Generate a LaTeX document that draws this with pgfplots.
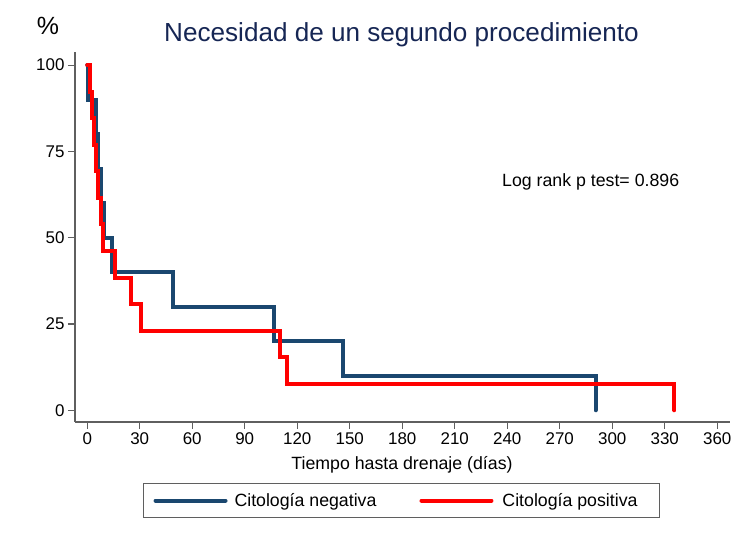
\documentclass[border=0pt]{standalone}
\usepackage{fontspec}
\setmainfont{Liberation Sans}
\usepackage{pgfplots}
\pgfplotsset{compat=1.18}
\definecolor{stnavy}{RGB}{26,71,111}
\definecolor{stred}{RGB}{255,0,0}
\definecolor{ttl}{RGB}{22,38,84}
\definecolor{axgray}{RGB}{95,95,95}

\begin{document}
\begin{tikzpicture}[x=1bp,y=1bp]
\useasboundingbox (-75,-123) rectangle (675,422);
\begin{axis}[
  at={(0,0)}, anchor=south west,
  scale only axis, width=655bp, height=370bp,
  xmin=-7, xmax=367.3, ymin=-3.4, ymax=103.8,
  axis x line=bottom, axis y line=left,
  every outer x axis line/.append style={-},
  every outer y axis line/.append style={-},
  axis line style={axgray, line width=1.2bp},
  xtick={0,30,...,360}, ytick={0,25,50,75,100},
  tick align=outside, major tick length=7bp,
  tick style={axgray, line width=1.2bp},
  /pgf/number format/assume math mode=true,
  ticklabel style={font=\fontsize{17}{20}\selectfont, text=black},
  legend columns=2,
  legend style={at={(0.4985,-0.2122)}, anchor=center, draw=axgray,
    line width=1.2bp, inner xsep=10bp, inner ysep=7.5bp,
    font=\fontsize{17.8}{21}\selectfont,
    /tikz/every odd column/.append style={column sep=5bp},
    /tikz/every even column/.append style={column sep=41bp}},
  legend image code/.code={\draw[#1] (0bp,0bp) -- (70bp,0bp);},
  legend cell align=left,
]
% Citologia negativa (n=10)
\addplot[const plot, color=stnavy, line width=4bp, line cap=round] coordinates {
  (0,100) (0.5,90) (5,80) (6.3,70) (7.7,60) (9.5,50) (14,40)
  (49,30) (107,20) (146,10) (290.5,0)
};
% Citologia positiva (n=13)
\addplot[const plot, color=stred, line width=4bp, line cap=round] coordinates {
  (0,100) (1.5,92.31) (2.5,84.62) (4,76.92) (5,69.23) (6,61.54) (8,53.85)
  (9,46.15) (16,38.46) (25,30.77) (31,23.08) (110,15.38) (114,7.69) (335.5,0)
};
\legend{Citología negativa, \kern2bp Citología positiva\rule{10bp}{0pt}}
\end{axis}
\node[anchor=base, font=\fontsize{26.2}{31}\selectfont, text=ttl] at (326.5,380) {Necesidad de un segundo procedimiento};
\node[anchor=base, font=\fontsize{25}{30}\selectfont] at (-27,387.7) {\%};
\node[anchor=base west, font=\fontsize{17.8}{21}\selectfont, inner sep=0pt] at (427,235.3) {Log rank p test= 0.896};
\node[anchor=base, font=\fontsize{17.8}{21}\selectfont, inner sep=0pt] at (327,-48) {Tiempo hasta drenaje (días)};
\end{tikzpicture}
\end{document}
